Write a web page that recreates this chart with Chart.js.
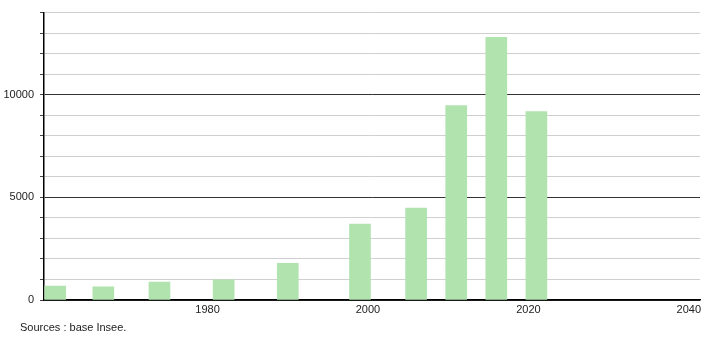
<!DOCTYPE html>
<html>
<head>
<meta charset="utf-8">
<script src="https://cdn.jsdelivr.net/npm/chart.js@4/dist/chart.umd.min.js"></script>
<style>
  html, body { margin: 0; padding: 0; background: #ffffff; }
  #wrap { position: relative; width: 710px; height: 340px; }
  #source { position: absolute; left: 20px; top: 321px; font: 11px "Liberation Sans", Arial, sans-serif; color: #222; }
</style>
</head>
<body>
<div id="wrap">
  <canvas id="c" width="710" height="340"></canvas>
  <div id="source">Sources : base Insee.</div>
</div>
<script>
const years = [1961, 1967, 1974, 1982, 1990, 1999, 2006, 2011, 2016, 2021];
const values = [680, 640, 870, 980, 1790, 3700, 4480, 9470, 12800, 9180];
const xTickLabels = [1980, 2000, 2020, 2040];
const yLabelled = [0, 5000, 10000];

const points = years.map((y, i) => ({ x: y, y: values[i] }));

new Chart(document.getElementById('c'), {
  type: 'bar',
  data: {
    datasets: [{
      data: points,
      backgroundColor: '#b1e3ae',
      borderWidth: 0,
      barThickness: 21
    }]
  },
  options: {
    responsive: false,
    animation: false,
    layout: { padding: { top: 10, right: 10, left: 0, bottom: 0 } },
    plugins: { legend: { display: false }, tooltip: { enabled: false } },
    scales: {
      x: {
        type: 'linear',
        offset: false,
        bounds: 'data',
        min: 1959.6,
        max: 2041.4,
        afterDataLimits: s => { s.min = 1959.6; s.max = 2041.4; },
        afterBuildTicks: s => { s.ticks = xTickLabels.map(v => ({ value: v })); },
        afterFit: s => { s.height = 40; },
        grid: { display: false, drawTicks: false, offset: false },
        border: { display: true, color: '#000', width: 1.5 },
        ticks: {
          padding: 3,
          maxRotation: 0,
          autoSkip: false,
          color: '#222',
          font: { family: '"Liberation Sans", Arial, sans-serif', size: 11 },
          callback: v => String(v)
        }
      },
      y: {
        min: 0,
        max: 14000,
        afterFit: s => { s.width = 44; },
        border: { display: true, color: '#000', width: 1.5 },
        grid: {
          color: c => (c.tick && c.tick.value % 5000 === 0) ? '#333' : '#cfcfcf',
          tickColor: '#444',
          tickLength: 4,
          lineWidth: 1
        },
        ticks: {
          stepSize: 1000,
          padding: 6,
          color: '#222',
          font: { family: '"Liberation Sans", Arial, sans-serif', size: 11 },
          callback: v => yLabelled.includes(v) ? String(v) : ''
        }
      }
    }
  }
});
</script>
</body>
</html>
